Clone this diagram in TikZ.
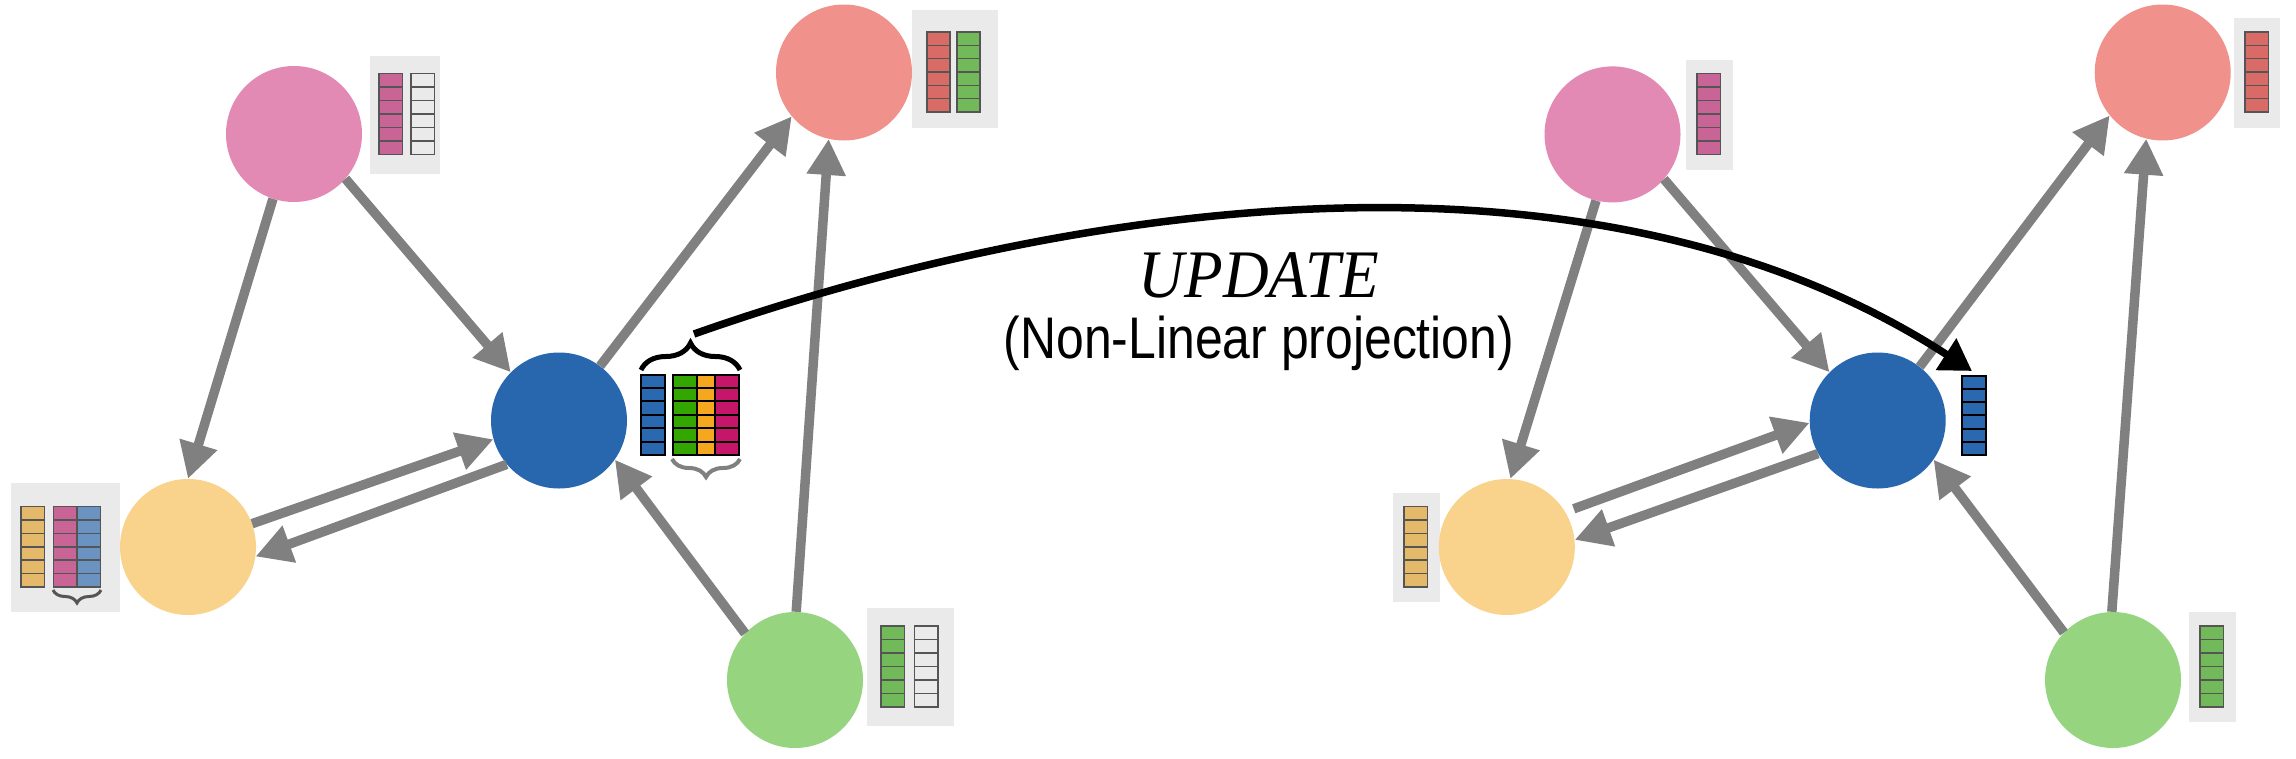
\documentclass[tikz,border=0pt]{standalone}
\usepackage{fontspec}
\usepackage{graphicx}
\usetikzlibrary{arrows.meta,decorations.pathreplacing}
\newfontfamily\arialfont{Liberation Sans}
\newfontfamily\timesfont{Liberation Serif}
\definecolor{pinkC}{HTML}{E28AB4}
\definecolor{salmonC}{HTML}{F0918B}
\definecolor{blueC}{HTML}{2867AE}
\definecolor{yellowC}{HTML}{F9D38C}
\definecolor{greenC}{HTML}{97D480}
\definecolor{arrgray}{HTML}{808080}
\definecolor{boxgray}{HTML}{EAEAEA}
\definecolor{cellout}{HTML}{555555}
\definecolor{pinkcell}{HTML}{C86496}
\definecolor{redcell}{HTML}{D96B66}
\definecolor{greencell}{HTML}{72B95A}
\definecolor{yelcell}{HTML}{E5B96A}
\definecolor{bluecell}{HTML}{6B93C2}
\definecolor{vblue}{HTML}{2A68B0}
\definecolor{vgreen}{HTML}{33A600}
\definecolor{vorange}{HTML}{F5A81E}
\definecolor{vmag}{HTML}{C6166A}
\newcommand\cellbar[6]{%
  \fill[#5] (#1,#2) rectangle (#3,#4);
  \foreach \k in {1,...,5}{\draw[#6] (#1,{#2+\k*(#4-#2)/6}) -- (#3,{#2+\k*(#4-#2)/6});}
  \draw[#6] (#1,#2) rectangle (#3,#4);
}
\tikzset{
  gnode/.style={circle, minimum size=136pt, inner sep=0pt, draw=none},
  garrow/.style={draw=arrgray, line width=9.5pt, -{Triangle[length=36pt,width=37pt]}},
  barbg/.style={fill=boxgray},
  softline/.style={draw=cellout, line width=1.5pt},
  hardline/.style={draw=black, line width=2pt},
}
\begin{document}
\begin{tikzpicture}[x=1pt,y=-1pt]
\useasboundingbox (0,0) rectangle (2296,758);
% ---------------- left graph: feature boxes
\fill[barbg] (370,56) rectangle (440,174);
\cellbar{379}{73.5}{402.5}{154.5}{pinkcell}{softline}
\cellbar{411}{73.5}{434.5}{154.5}{boxgray}{softline}
\fill[barbg] (912,10) rectangle (998,128);
\cellbar{927}{32}{950}{112}{redcell}{softline}
\cellbar{957}{32}{980}{112}{greencell}{softline}
\fill[barbg] (11,483) rectangle (120,612);
\cellbar{21}{506.5}{44.5}{587}{yelcell}{softline}
\cellbar{53.5}{506.5}{77}{587}{pinkcell}{softline}
\cellbar{77}{506.5}{100.5}{587}{bluecell}{softline}
\draw[draw=cellout, line width=3pt, decorate, decoration={brace, amplitude=13pt, mirror}] (53,590) -- (101,590);
\fill[barbg] (867,608) rectangle (954,726);
\cellbar{881}{626}{904.5}{707}{greencell}{softline}
\cellbar{914.5}{626}{938}{707}{boxgray}{softline}
% aggregated vectors near blue node
\cellbar{641}{374.5}{665}{455}{vblue}{hardline}
\cellbar{673}{374.5}{697}{455}{vgreen}{hardline}
\cellbar{697}{374.5}{715}{455}{vorange}{hardline}
\cellbar{715}{374.5}{739}{455}{vmag}{hardline}
\draw[line width=5pt, decorate, decoration={brace, amplitude=27pt}] (641,370) -- (740,370);
\draw[draw=arrgray, line width=4pt, decorate, decoration={brace, amplitude=18pt, mirror}] (672,459) -- (740,459);
% left nodes
\node[gnode, fill=pinkC]   (pL) at (294,134) {};
\node[gnode, fill=salmonC] (sL) at (844,72.5) {};
\node[gnode, fill=blueC]   (bL) at (559,420.5) {};
\node[gnode, fill=yellowC] (yL) at (188,547) {};
\node[gnode, fill=greenC]  (gL) at (795,680) {};
% left edges
\draw[garrow] (pL.252) -- (yL.90);
\draw[garrow] (pL.319) -- (bL.135);
\draw[garrow] (bL.53) -- (sL.220);
\draw[garrow] (gL.89) -- (sL.257);
\draw[garrow] (yL.20) -- (bL.196);
\draw[garrow] (bL.220) -- (yL.352);
\draw[garrow] (gL.137) -- (bL.325);
% ---------------- right graph: feature boxes
\fill[barbg] (1686,60) rectangle (1733,170);
\cellbar{1697}{73.5}{1720.5}{154.5}{pinkcell}{softline}
\fill[barbg] (2234,18) rectangle (2280,128);
\cellbar{2245}{32}{2268.5}{112}{redcell}{softline}
\fill[barbg] (1393,493) rectangle (1440,602);
\cellbar{1404}{506.5}{1427.5}{587}{yelcell}{softline}
\fill[barbg] (2189,612) rectangle (2236,722);
\cellbar{2200}{626}{2223.5}{707}{greencell}{softline}
\cellbar{1962}{375.5}{1986}{455}{vblue}{hardline}
% right nodes
\node[gnode, fill=pinkC]   (pR) at (1612.5,134.4) {};
\node[gnode, fill=salmonC] (sR) at (2162.7,72.5) {};
\node[gnode, fill=blueC]   (bR) at (1877.7,420.5) {};
\node[gnode, fill=yellowC] (yR) at (1506.8,547) {};
\node[gnode, fill=greenC]  (gR) at (2113,680) {};
% right edges
\draw[garrow] (pR.256) -- (yR.87);
\draw[garrow] (pR.319) -- (bR.135);
\draw[garrow] (bR.52) -- (sR.219);
\draw[garrow] (gR.91) -- (sR.256);
\draw[garrow, shorten <=9pt] (yR.31) -- (bR.182);
\draw[garrow] (bR.209) -- (yR.6);
\draw[garrow] (gR.136) -- (bR.325);
% ---------------- update arrow
\coordinate (ustart) at (694,334);
\coordinate (uend) at (1972,371);
\draw[line width=7.5pt, -{Triangle[length=31pt,width=36pt]}] (ustart) .. controls (994,228) and (1558,103) .. (uend);
\node[anchor=base, inner sep=0pt] (upd) at (1259,297) {\scalebox{0.93}[1]{\timesfont\itshape\fontsize{68}{70}\selectfont UPDATE}};
\node[anchor=base, inner sep=0pt] (nlp) at (1259,358) {\scalebox{0.85}[1]{\arialfont\fontsize{58.7}{62}\selectfont (Non-Linear projection)}};
\end{tikzpicture}
\end{document}
